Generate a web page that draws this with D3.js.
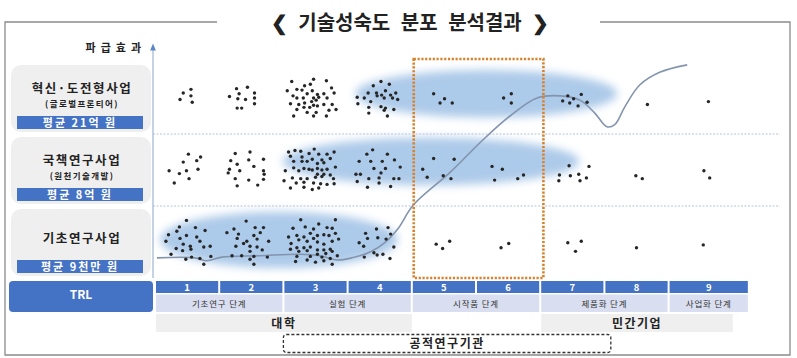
<!DOCTYPE html>
<html><head><meta charset="utf-8">
<script src="https://cdn.jsdelivr.net/npm/d3@7"></script>
<style>body{margin:0;background:#fff}svg{display:block;font-family:"Noto Sans CJK KR","Noto Sans",sans-serif}</style>
</head><body><svg id="c" width="797" height="358"></svg>
<script>
const title = "❮ 기술성숙도 분포 분석결과 ❯";
const yAxisLabel = "파급효과";
const programs = ["혁신·도전형사업", "국책연구사업", "기초연구사업"];
const programSubs = ["(글로벌프론티어)", "(원천기술개발)", ""];
const avgBudgets = ["평균 21억 원", "평균 8억 원", "평균 9천만 원"];
const trlLevels = [1,2,3,4,5,6,7,8,9];
const stages = [{name:"기초연구 단계",from:1,to:2},{name:"실험 단계",from:3,to:4},{name:"시작품 단계",from:5,to:6},{name:"제품화 단계",from:7,to:8},{name:"사업화 단계",from:9,to:9}];
const performers = [{name:"대학",from:0.5,to:4.5},{name:"민간기업",from:6.5,to:9.5}];
const publicInst = {name:"공적연구기관",from:2.5,to:7.6};
const focusRange = [4.53, 6.55];
// dots: [TRL, impact level]
const dotsHigh = [[0.94,2.57],[1.06,2.62],[0.89,2.48],[1.06,2.53],[1.08,2.44],
[1.77,2.63],[1.94,2.65],[1.81,2.56],[2.05,2.57],[1.66,2.52],[1.79,2.49],[1.91,2.48],[2.05,2.50],[2.05,2.42],[1.78,2.36],[1.85,2.36],
[2.63,2.73],[2.97,2.76],[3.17,2.74],[2.83,2.67],[2.92,2.69],[2.71,2.62],[2.56,2.60],[2.79,2.61],[2.95,2.60],[3.25,2.64],[2.65,2.53],[2.87,2.56],[3.03,2.55],[3.13,2.56],[3.29,2.57],[2.71,2.50],[2.81,2.50],[2.97,2.50],[3.05,2.51],[3.18,2.50],[2.94,2.45],[3.01,2.47],[2.61,2.42],[2.74,2.41],[2.83,2.43],[2.97,2.40],[3.13,2.41],[3.26,2.41],[2.82,2.37],[2.91,2.37],[3.03,2.39],[3.21,2.33],[3.32,2.34],[2.71,2.34],[2.87,2.30],[3.01,2.30],[2.66,2.25],[2.97,2.25],[3.17,2.25],
[3.65,2.51],[3.76,2.50],[3.82,2.57],[3.90,2.67],[4.02,2.73],[4.15,2.69],[3.95,2.57],[4.03,2.54],[4.09,2.60],[4.17,2.54],[4.25,2.57],[4.07,2.50],[4.20,2.50],[4.28,2.48],[3.86,2.45],[3.66,2.42],[3.83,2.37],[4.02,2.38],[4.09,2.36],[4.07,2.33],[4.22,2.34],[3.83,2.29],[4.12,2.25],[3.96,2.53],
[4.84,2.56],[5.01,2.49],[4.94,2.43],[5.13,2.43],[6.05,2.56],[5.93,2.50],[6.05,2.43],[6.93,2.53],[7.14,2.55],[6.85,2.46],[7.02,2.49],[6.96,2.43],[7.09,2.39],[7.23,2.44],[8.17,2.41],[9.12,2.45]];
const dotsMid = [[1.02,1.72],[1.21,1.68],[1.15,1.63],[0.94,1.61],[0.72,1.49],[0.88,1.45],[0.99,1.49],[1.17,1.51],[1.03,1.38],[0.80,1.32],
[1.75,1.73],[1.98,1.75],[1.68,1.63],[1.96,1.64],[2.19,1.65],[1.78,1.58],[2.04,1.55],[1.66,1.51],[1.64,1.46],[1.82,1.49],[2.19,1.49],[2.20,1.44],[1.75,1.38],[1.96,1.36],[2.19,1.37],[1.78,1.28],[2.10,1.29],
[2.58,1.75],[2.68,1.77],[2.77,1.76],[2.98,1.79],[2.90,1.73],[3.05,1.72],[3.18,1.72],[3.29,1.75],[2.61,1.69],[2.79,1.68],[2.95,1.65],[3.10,1.64],[3.23,1.66],[2.66,1.62],[2.79,1.62],[2.87,1.62],[3.03,1.59],[3.13,1.60],[3.31,1.54],[2.66,1.53],[2.82,1.52],[2.90,1.51],[2.95,1.50],[3.03,1.52],[3.10,1.50],[3.18,1.51],[2.53,1.49],[2.74,1.49],[3.03,1.44],[3.13,1.44],[3.23,1.43],[2.64,1.39],[2.77,1.38],[2.87,1.38],[3.00,1.40],[3.10,1.41],[3.28,1.38],[2.51,1.35],[2.70,1.32],[2.82,1.33],[2.97,1.32],[3.08,1.31],[3.18,1.30],[3.29,1.31],[2.61,1.25],[2.82,1.26],[2.95,1.23],[3.05,1.25],
[3.80,1.72],[3.89,1.78],[4.12,1.72],[3.68,1.62],[3.86,1.62],[4.04,1.62],[4.23,1.64],[3.91,1.52],[4.09,1.52],[4.32,1.54],[3.63,1.44],[3.70,1.44],[3.83,1.38],[4.02,1.46],[3.99,1.39],[4.22,1.38],[4.30,1.38],[3.65,1.34],[3.81,1.26],[3.99,1.32],[4.17,1.27],
[4.84,1.66],[5.16,1.65],[4.67,1.51],[4.74,1.40],[4.99,1.42],[5.11,1.38],
[5.75,1.55],[5.91,1.51],[5.79,1.36],[6.15,1.38],[6.24,1.43],
[6.95,1.56],[7.26,1.55],[6.80,1.43],[6.97,1.42],[7.10,1.44],[6.79,1.35],[7.12,1.35],[7.22,1.39],
[7.99,1.42],[8.09,1.38],[9.05,1.49],[9.14,1.39]];
const dotsLow = [[0.99,0.80],[0.88,0.71],[0.71,0.60],[0.84,0.65],[0.67,0.51],[0.89,0.55],[0.99,0.59],[1.13,0.70],[1.28,0.66],[1.15,0.57],[1.20,0.51],[0.94,0.47],[0.83,0.41],[1.05,0.44],[0.93,0.38],[0.75,0.33],[1.06,0.40],[1.26,0.43],[1.36,0.44],[1.07,0.29],[1.20,0.27],[0.98,0.26],[1.26,0.19],[1.37,0.30],
[1.92,0.79],[1.62,0.63],[1.73,0.68],[1.80,0.61],[2.06,0.70],[2.19,0.70],[2.14,0.63],[2.04,0.59],[1.78,0.55],[1.93,0.51],[2.09,0.54],[2.27,0.51],[1.76,0.44],[1.88,0.48],[1.98,0.44],[2.09,0.43],[2.17,0.39],[1.98,0.37],[1.70,0.31],[1.85,0.31],[2.04,0.30],[2.25,0.29],[1.98,0.26],[2.04,0.19],
[2.77,0.81],[3.05,0.75],[3.31,0.81],[2.65,0.69],[2.84,0.71],[2.97,0.68],[3.18,0.70],[3.26,0.69],[2.58,0.57],[2.71,0.59],[2.82,0.57],[2.92,0.62],[3.03,0.59],[3.13,0.60],[3.21,0.59],[3.31,0.62],[2.62,0.48],[2.74,0.53],[2.87,0.51],[2.97,0.55],[3.03,0.50],[3.13,0.47],[3.26,0.51],[3.36,0.54],[2.71,0.42],[2.82,0.42],[2.92,0.43],[3.03,0.39],[3.13,0.39],[3.23,0.40],[2.61,0.40],[2.74,0.37],[2.87,0.38],[3.03,0.33],[3.16,0.34],[3.26,0.37],[2.71,0.30],[2.92,0.30],[3.10,0.29],[3.23,0.27],[3.34,0.31],[2.69,0.23],[2.87,0.25],[3.00,0.22],[3.13,0.24],[3.26,0.19],
[3.78,0.62],[3.95,0.68],[4.13,0.70],[4.17,0.61],[3.68,0.49],[3.81,0.55],[3.97,0.56],[4.10,0.54],[3.75,0.44],[3.91,0.35],[3.96,0.32],[4.05,0.33],[4.16,0.27],[4.22,0.43],[3.76,0.29],
[4.88,0.47],[4.98,0.41],[5.09,0.51],[5.89,0.42],[6.01,0.48],[6.93,0.49],[7.14,0.51],[7.05,0.37],[8.00,0.42],[9.04,0.46]];
// concentration zones: [TRL centre, level centre, TRL half-width, level half-height]
const zones = [[5.66,2.56,2.04,0.33],[4.80,1.62,2.31,0.33],[2.43,0.53,1.85,0.39]];
const trendCurve = [[0.53,0.28],[1.12,0.28],[1.31,0.24],[1.54,0.29],[2.14,0.31],[2.76,0.33],[3.07,0.31],[3.33,0.25],[3.57,0.28],[3.85,0.36],[4.08,0.49],[4.29,0.69],[4.52,1.01],[5.10,1.47],[5.61,1.92],[6.03,2.25],[6.45,2.50],[6.81,2.53],[7.12,2.47],[7.35,2.29],[7.54,2.10],[7.66,2.13],[7.82,2.38],[8.05,2.68],[8.37,2.86],[8.79,2.96]];

const svg = d3.select("#c");
const x = d3.scaleLinear().domain([0.5, 8.5]).range([155, 668.6]);
const y = d3.scaleLinear().domain([0, 3]).range([278, 62]);
const cellEnd = t => t === 9 ? x(9.75) : x(t + 0.5);
const blue = "#4472c4";

const defs = svg.append("defs");
defs.append("filter").attr("id","blur").attr("x","-30%").attr("y","-60%").attr("width","160%").attr("height","220%")
  .append("feGaussianBlur").attr("stdDeviation", 4.5);
const mk = defs.append("marker").attr("id","arr").attr("viewBox","0 0 10 10").attr("refX",5).attr("refY",5)
  .attr("markerWidth",6).attr("markerHeight",7).attr("orient","auto");
mk.append("path").attr("d","M0,1 L10,5 L0,9 Z").attr("fill","#5b86c9");

// frame
const frame = svg.append("g").attr("stroke","#8a8a8a").attr("stroke-width",1.3).attr("fill","none");
frame.append("path").attr("d","M217,22 H5 V355 H790 V22 H600");
svg.append("text").attr("x",410).attr("y",30).attr("text-anchor","middle").attr("font-size",20)
  .attr("font-weight","bold").attr("fill","#222").attr("word-spacing",6).text(title);

// left program boxes
programs.forEach((p,i)=>{
  const top = y(3-i), bot = y(2-i);
  const g = svg.append("g");
  g.append("rect").attr("x",11).attr("y",top+3).attr("width",140).attr("height",bot-top-5).attr("rx",10).attr("fill","#efefef");
  g.append("text").attr("x",82).attr("y",top+(programSubs[i]?31:37)).attr("text-anchor","middle").attr("font-size",12.5)
    .attr("font-weight","bold").attr("letter-spacing",1.6).attr("fill","#222").text(p);
  if (programSubs[i]) g.append("text").attr("x",82).attr("y",top+45).attr("text-anchor","middle").attr("font-size",8.5)
    .attr("font-weight","bold").attr("letter-spacing",1.4).attr("fill","#222").text(programSubs[i]);
  g.append("rect").attr("x",17).attr("y",bot-18).attr("width",126).attr("height",13).attr("fill",blue);
  g.append("text").attr("x",80).attr("y",bot-7.5).attr("text-anchor","middle").attr("font-size",11)
    .attr("font-weight","bold").attr("letter-spacing",2).attr("fill","#fff").text(avgBudgets[i]);
});

// zones
svg.append("g").selectAll("ellipse").data(zones).join("ellipse")
  .attr("cx",d=>x(d[0])).attr("cy",d=>y(d[1])).attr("rx",d=>x(d[0]+d[2])-x(d[0])).attr("ry",d=>y(d[1]-d[3])-y(d[1]))
  .attr("fill","#a4c5e7").attr("opacity",0.9).attr("filter","url(#blur)");

// row separators
svg.append("g").selectAll("line").data([1,2]).join("line")
  .attr("x1",153).attr("x2",780).attr("y1",d=>y(d)).attr("y2",d=>y(d))
  .attr("stroke","#b7c3da").attr("stroke-width",1.2).attr("stroke-dasharray","2,1.5");

// y axis
svg.append("line").attr("x1",153).attr("x2",153).attr("y1",y(0)).attr("y2",47).attr("stroke","#9fb4d6").attr("stroke-width",1.2).attr("marker-end","url(#arr)");
svg.append("text").attr("x",146).attr("y",52).attr("text-anchor","end").attr("font-size",11).attr("font-weight","bold")
  .attr("letter-spacing",5).attr("fill","#222").text(yAxisLabel);

// trend curve
svg.append("path").datum(trendCurve).attr("fill","none").attr("stroke","#8394ad").attr("stroke-width",1.6)
  .attr("d", d3.line().x(d=>x(d[0])).y(d=>y(d[1])).curve(d3.curveCatmullRom));

// focus rect
svg.append("rect").attr("x",x(focusRange[0])).attr("y",59).attr("width",x(focusRange[1])-x(focusRange[0])).attr("height",y(0)-59)
  .attr("fill","none").attr("stroke","#d9822b").attr("stroke-width",2.6).attr("stroke-dasharray","2.2,1.6");

// dots
svg.append("g").selectAll("circle").data(dotsHigh.concat(dotsMid, dotsLow)).join("circle")
  .attr("cx",d=>x(d[0])).attr("cy",d=>y(d[1])).attr("r",1.7).attr("fill","#262626");

// TRL table
svg.append("rect").attr("x",9).attr("y",281).attr("width",144).attr("height",31).attr("rx",4).attr("fill",blue);
svg.append("text").attr("x",81).attr("y",299).attr("text-anchor","middle").attr("font-size",12).attr("font-weight","bold").attr("fill","#fff").text("TRL");
const nums = svg.append("g");
trlLevels.forEach(t=>{
  nums.append("rect").attr("x",x(t-0.5)+1).attr("y",281).attr("width",cellEnd(t)-x(t-0.5)-2).attr("height",12).attr("fill",blue);
  nums.append("text").attr("x",(x(t-0.5)+cellEnd(t))/2).attr("y",291).attr("text-anchor","middle").attr("font-size",9.5)
    .attr("font-weight","bold").attr("fill","#fff").text(t);
});
stages.forEach(s=>{
  const x0 = x(s.from-0.5)+1, x1 = cellEnd(s.to)-1;
  svg.append("rect").attr("x",x0).attr("y",294.5).attr("width",x1-x0).attr("height",17.5).attr("fill","#d9dff0");
  svg.append("text").attr("x",(x0+x1)/2).attr("y",306.5).attr("text-anchor","middle").attr("font-size",8.5)
    .attr("letter-spacing",0.8).attr("fill","#333").text(s.name);
});
performers.forEach(p=>{
  const x0 = x(p.from)+1, x1 = x(p.to);
  svg.append("rect").attr("x",x0).attr("y",314).attr("width",x1-x0).attr("height",18).attr("fill","#efefef");
  svg.append("text").attr("x",(x0+x1)/2).attr("y",327.5).attr("text-anchor","middle").attr("font-size",12)
    .attr("font-weight","bold").attr("letter-spacing",1.5).attr("fill","#222").text(p.name);
});
svg.append("rect").attr("x",x(publicInst.from)).attr("y",334.5).attr("width",x(publicInst.to)-x(publicInst.from)).attr("height",18)
  .attr("rx",3).attr("fill","none").attr("stroke","#333").attr("stroke-width",1.3).attr("stroke-dasharray","3,2");
svg.append("text").attr("x",(x(publicInst.from)+x(publicInst.to))/2).attr("y",348).attr("text-anchor","middle").attr("font-size",12)
  .attr("font-weight","bold").attr("letter-spacing",1.5).attr("fill","#222").text(publicInst.name);
</script></body></html>
